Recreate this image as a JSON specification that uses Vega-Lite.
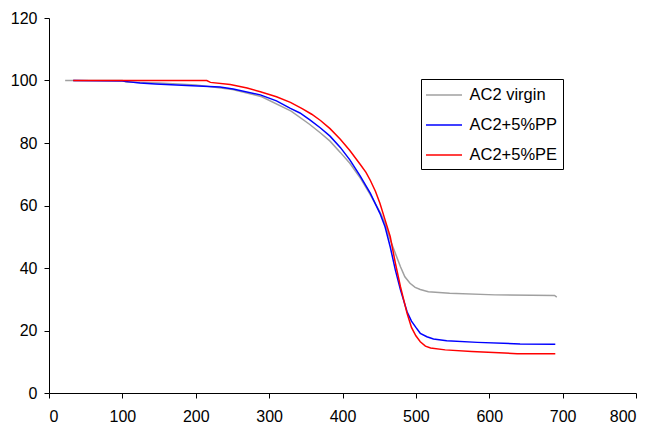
{
  "$schema": "https://vega.github.io/schema/vega-lite/v6.json",
  "width": 587,
  "height": 375,
  "autosize": {"type": "none"},
  "padding": {"left": 49, "top": 18, "right": 14, "bottom": 34},
  "background": "white",
  "config": {
    "view": {"stroke": null},
    "font": "Liberation Sans",
    "axis": {"grid": false, "domainColor": "black", "tickColor": "black", "labelColor": "black", "labelFont": "Liberation Sans", "labelFontSize": 16, "tickSize": 5, "domainWidth": 1, "tickWidth": 1, "title": null}
  },
  "datasets": {
    "curves": [
      {"series": "AC2 virgin", "t": 22, "v": 100},
      {"series": "AC2 virgin", "t": 100, "v": 100},
      {"series": "AC2 virgin", "t": 105, "v": 99.5},
      {"series": "AC2 virgin", "t": 150, "v": 99.2},
      {"series": "AC2 virgin", "t": 200, "v": 98.6},
      {"series": "AC2 virgin", "t": 250, "v": 97.1},
      {"series": "AC2 virgin", "t": 290, "v": 94.8},
      {"series": "AC2 virgin", "t": 330, "v": 90.2},
      {"series": "AC2 virgin", "t": 355, "v": 86.0},
      {"series": "AC2 virgin", "t": 370, "v": 83.2},
      {"series": "AC2 virgin", "t": 383, "v": 80.6},
      {"series": "AC2 virgin", "t": 397, "v": 77.0},
      {"series": "AC2 virgin", "t": 410, "v": 73.5},
      {"series": "AC2 virgin", "t": 425, "v": 68.5},
      {"series": "AC2 virgin", "t": 438, "v": 63.4},
      {"series": "AC2 virgin", "t": 452, "v": 57.5},
      {"series": "AC2 virgin", "t": 458, "v": 54.3},
      {"series": "AC2 virgin", "t": 465, "v": 49.0},
      {"series": "AC2 virgin", "t": 472, "v": 44.7},
      {"series": "AC2 virgin", "t": 479, "v": 40.4},
      {"series": "AC2 virgin", "t": 485, "v": 37.2},
      {"series": "AC2 virgin", "t": 492, "v": 35.1},
      {"series": "AC2 virgin", "t": 499, "v": 33.8},
      {"series": "AC2 virgin", "t": 506, "v": 33.1},
      {"series": "AC2 virgin", "t": 517, "v": 32.4},
      {"series": "AC2 virgin", "t": 546, "v": 31.9},
      {"series": "AC2 virgin", "t": 608, "v": 31.4},
      {"series": "AC2 virgin", "t": 689, "v": 31.2},
      {"series": "AC2 virgin", "t": 692, "v": 30.7},
      {"series": "AC2+5%PP", "t": 33, "v": 100},
      {"series": "AC2+5%PP", "t": 100, "v": 99.8},
      {"series": "AC2+5%PP", "t": 124, "v": 99.2},
      {"series": "AC2+5%PP", "t": 145, "v": 98.9},
      {"series": "AC2+5%PP", "t": 188, "v": 98.4},
      {"series": "AC2+5%PP", "t": 233, "v": 97.9},
      {"series": "AC2+5%PP", "t": 251, "v": 97.3},
      {"series": "AC2+5%PP", "t": 288, "v": 95.4},
      {"series": "AC2+5%PP", "t": 310, "v": 93.5},
      {"series": "AC2+5%PP", "t": 329, "v": 91.1},
      {"series": "AC2+5%PP", "t": 342, "v": 89.6},
      {"series": "AC2+5%PP", "t": 356, "v": 87.3},
      {"series": "AC2+5%PP", "t": 370, "v": 84.8},
      {"series": "AC2+5%PP", "t": 383, "v": 82.2},
      {"series": "AC2+5%PP", "t": 397, "v": 78.6},
      {"series": "AC2+5%PP", "t": 410, "v": 74.6},
      {"series": "AC2+5%PP", "t": 424, "v": 69.5},
      {"series": "AC2+5%PP", "t": 438, "v": 63.9},
      {"series": "AC2+5%PP", "t": 451, "v": 57.5},
      {"series": "AC2+5%PP", "t": 458, "v": 53.2},
      {"series": "AC2+5%PP", "t": 465, "v": 46.8},
      {"series": "AC2+5%PP", "t": 472, "v": 39.4},
      {"series": "AC2+5%PP", "t": 479, "v": 33.0},
      {"series": "AC2+5%PP", "t": 488, "v": 26.0},
      {"series": "AC2+5%PP", "t": 494, "v": 23.0},
      {"series": "AC2+5%PP", "t": 500, "v": 21.0},
      {"series": "AC2+5%PP", "t": 506, "v": 19.1},
      {"series": "AC2+5%PP", "t": 515, "v": 18.0},
      {"series": "AC2+5%PP", "t": 524, "v": 17.3},
      {"series": "AC2+5%PP", "t": 542, "v": 16.7},
      {"series": "AC2+5%PP", "t": 584, "v": 16.2},
      {"series": "AC2+5%PP", "t": 642, "v": 15.7},
      {"series": "AC2+5%PP", "t": 690, "v": 15.6},
      {"series": "AC2+5%PE", "t": 33, "v": 100},
      {"series": "AC2+5%PE", "t": 215, "v": 100},
      {"series": "AC2+5%PE", "t": 220, "v": 99.4},
      {"series": "AC2+5%PE", "t": 247, "v": 98.7},
      {"series": "AC2+5%PE", "t": 270, "v": 97.6},
      {"series": "AC2+5%PE", "t": 288, "v": 96.4},
      {"series": "AC2+5%PE", "t": 310, "v": 94.8},
      {"series": "AC2+5%PE", "t": 329, "v": 93.0},
      {"series": "AC2+5%PE", "t": 345, "v": 91.0},
      {"series": "AC2+5%PE", "t": 358, "v": 89.2},
      {"series": "AC2+5%PE", "t": 370, "v": 87.2},
      {"series": "AC2+5%PE", "t": 383, "v": 84.6},
      {"series": "AC2+5%PE", "t": 397, "v": 81.2},
      {"series": "AC2+5%PE", "t": 410, "v": 77.6},
      {"series": "AC2+5%PE", "t": 424, "v": 73.2},
      {"series": "AC2+5%PE", "t": 432, "v": 70.6},
      {"series": "AC2+5%PE", "t": 438, "v": 68.0},
      {"series": "AC2+5%PE", "t": 445, "v": 64.5},
      {"series": "AC2+5%PE", "t": 451, "v": 60.7},
      {"series": "AC2+5%PE", "t": 458, "v": 55.4},
      {"series": "AC2+5%PE", "t": 465, "v": 50.1},
      {"series": "AC2+5%PE", "t": 472, "v": 41.6},
      {"series": "AC2+5%PE", "t": 479, "v": 34.0},
      {"series": "AC2+5%PE", "t": 488, "v": 25.5},
      {"series": "AC2+5%PE", "t": 494, "v": 21.0},
      {"series": "AC2+5%PE", "t": 500, "v": 18.3},
      {"series": "AC2+5%PE", "t": 506, "v": 16.4},
      {"series": "AC2+5%PE", "t": 513, "v": 15.0},
      {"series": "AC2+5%PE", "t": 520, "v": 14.4},
      {"series": "AC2+5%PE", "t": 540, "v": 13.8},
      {"series": "AC2+5%PE", "t": 576, "v": 13.3},
      {"series": "AC2+5%PE", "t": 638, "v": 12.6},
      {"series": "AC2+5%PE", "t": 690, "v": 12.6}
    ]
  },
  "data": {"name": "curves"},
  "mark": {"type": "line", "strokeWidth": 1.5, "interpolate": "linear"},
  "encoding": {
    "x": {"field": "t", "type": "quantitative", "scale": {"domain": [0, 800], "nice": false, "zero": false}, "axis": {"values": [0, 100, 200, 300, 400, 500, 600, 700, 800], "labelPadding": 10}},
    "y": {"field": "v", "type": "quantitative", "scale": {"domain": [0, 120], "nice": false}, "axis": {"values": [0, 20, 40, 60, 80, 100, 120], "labelPadding": 7}},
    "color": {
      "field": "series",
      "type": "nominal",
      "scale": {"domain": ["AC2 virgin", "AC2+5%PP", "AC2+5%PE"], "range": ["#A0A0A0", "#0000FF", "#FF0000"]},
      "legend": {
        "title": null,
        "orient": "none",
        "legendX": 372,
        "legendY": 61,
        "symbolType": "M-1.8,0H1.8",
        "symbolSize": 400,
        "symbolOffset": 7,
        "symbolStrokeWidth": 1.5,
        "labelFont": "Liberation Sans",
        "labelFontSize": 16.5,
        "labelColor": "black",
        "labelOffset": 14.5,
        "rowPadding": 10,
        "padding": 5,
        "strokeColor": "black",
        "fillColor": "white"
      }
    }
  }
}
